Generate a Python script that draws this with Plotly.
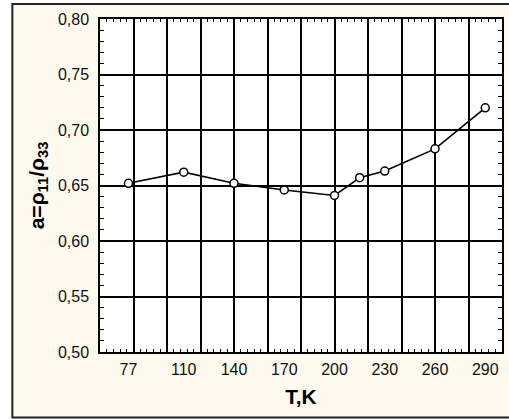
import plotly.graph_objects as go

# Anisotropy ratio a = rho11/rho33 versus temperature
T = [77, 110, 140, 170, 200, 215, 230, 260, 290]
a_ratio = [0.652, 0.662, 0.652, 0.646, 0.641, 0.657, 0.663, 0.683, 0.720]

# Labelled temperatures on the bottom axis
t_labels = [77, 110, 140, 170, 200, 230, 260, 290]

FONT = "Liberation Sans, Arial, sans-serif"
CREAM = "#fdf9ef"

fig = go.Figure()
fig.add_trace(go.Scatter(
    x=T, y=a_ratio, mode="lines+markers",
    line=dict(color="black", width=1.6),
    marker=dict(symbol="circle", size=8, color="white",
                line=dict(color="black", width=1.5)),
    showlegend=False,
))

fig.update_layout(
    width=509, height=419,
    margin=dict(l=100, r=5, t=19, b=67),
    paper_bgcolor="white",
    plot_bgcolor="rgba(0,0,0,0)",
    separators=", ",
    font=dict(family=FONT, size=16, color="black"),
    xaxis=dict(
        range=[60, 300], tick0=0, dtick=20,
        showticklabels=False, ticks="",
        showgrid=True, gridcolor="black", gridwidth=1.6,
        zeroline=False, showline=True, linecolor="black", linewidth=1.5,
        mirror="allticks",
        minor=dict(ticks="inside", tick0=0, dtick=4, ticklen=3,
                   tickcolor="black", tickwidth=1, showgrid=False),
    ),
    xaxis2=dict(
        overlaying="x", anchor="y", side="bottom",
        range=[60, 300], tickmode="array", tickvals=t_labels,
        ticktext=[str(v) for v in t_labels],
        ticks="", showgrid=False, zeroline=False, showline=False,
        ticklabelstandoff=6,
        tickfont=dict(family=FONT, size=16, color="#111"),
        title=dict(text="<b>T,K</b>", standoff=12,
                   font=dict(family=FONT, size=21, color="black")),
    ),
    yaxis=dict(
        range=[0.50, 0.80], tick0=0.5, dtick=0.05, tickformat=".2f",
        ticks="", ticklabelstandoff=6,
        tickfont=dict(family=FONT, size=16, color="#111"),
        showgrid=True, gridcolor="black", gridwidth=1.6,
        zeroline=False, showline=True, linecolor="black", linewidth=1.5,
        mirror="allticks",
        minor=dict(ticks="inside", tick0=0.5, dtick=0.01, ticklen=4,
                   tickcolor="black", tickwidth=1, showgrid=False),
        title=dict(text="<b>a=ρ<sub>11</sub>/ρ<sub>33</sub></b>", standoff=8,
                   font=dict(family=FONT, size=21, color="black")),
    ),
    shapes=[
        # cream panel with dark frame around the whole chart
        dict(type="rect", xref="paper", yref="paper",
             x0=-0.218, x1=1.06, y0=-0.197, y1=1.045,
             fillcolor=CREAM, line=dict(color="#222", width=2), layer="below"),
        # white plotting area
        dict(type="rect", xref="paper", yref="paper",
             x0=0, x1=1, y0=0, y1=1,
             fillcolor="white", line=dict(width=0), layer="below"),
    ],
)

# an invisible trace keeps the label axis attached to the subplot
fig.add_trace(go.Scatter(x=[T[0]], y=[a_ratio[0]], xaxis="x2", mode="markers",
                         marker=dict(opacity=0), hoverinfo="skip",
                         showlegend=False))

fig.write_html("out.html")
